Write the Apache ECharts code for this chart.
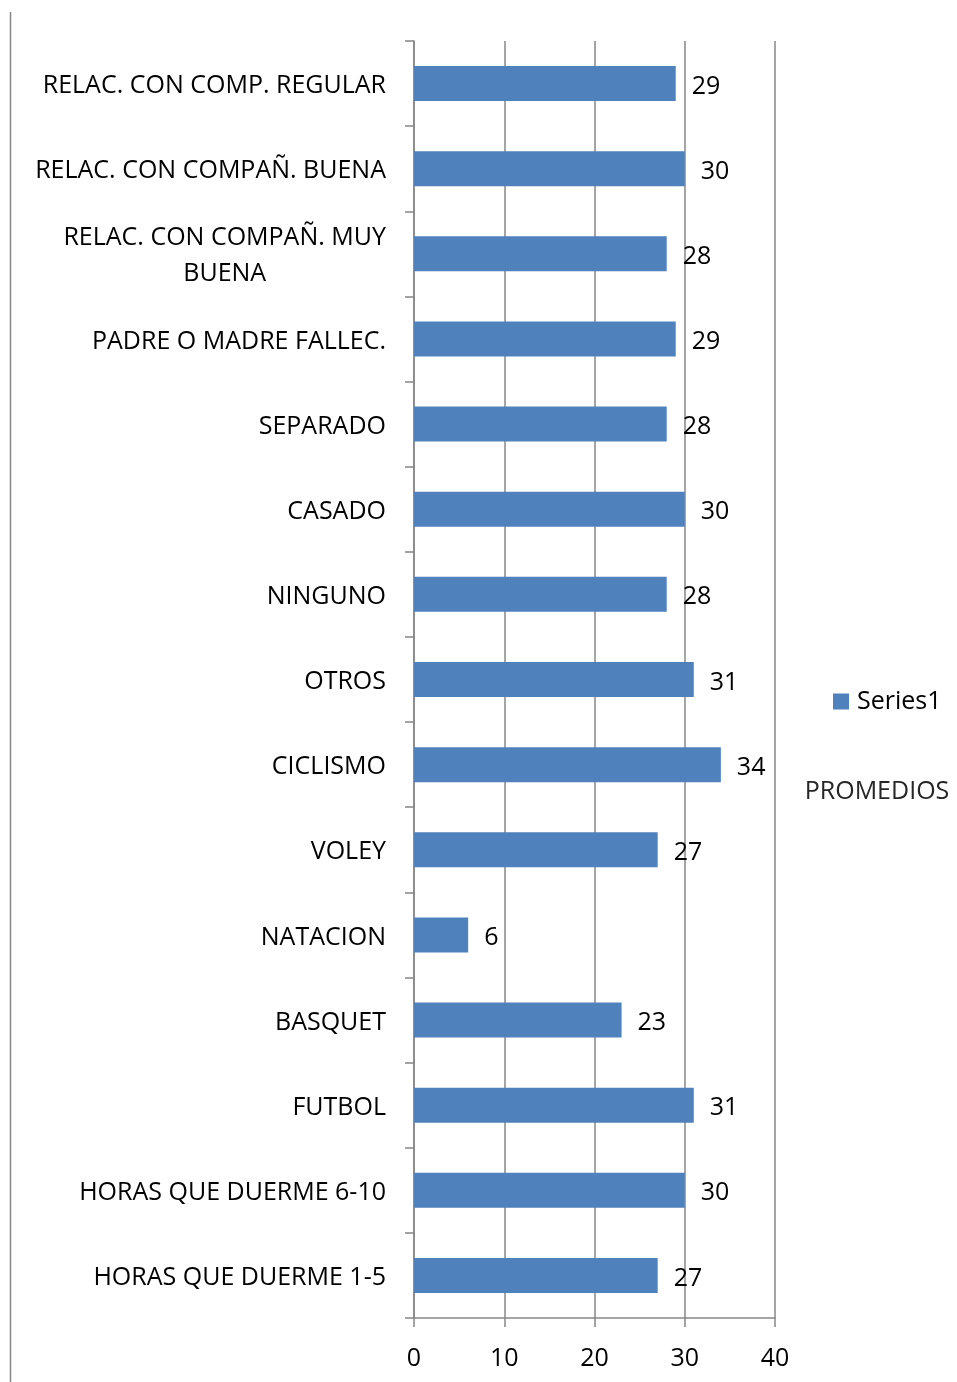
<!DOCTYPE html>
<html>
<head>
<meta charset="utf-8">
<title>PROMEDIOS</title>
<script src="https://cdn.jsdelivr.net/npm/echarts@6/dist/echarts.min.js"></script>
<style>
  html, body { margin: 0; padding: 0; background: #fff; }
  #chart { width: 957px; height: 1382px; }
</style>
</head>
<body>
<div id="chart"></div>
<script>
// bottom to top, as in the original sheet
const categories = [
  'HORAS QUE DUERME 1-5',
  'HORAS QUE DUERME 6-10',
  'FUTBOL',
  'BASQUET',
  'NATACION',
  'VOLEY',
  'CICLISMO',
  'OTROS',
  'NINGUNO',
  'CASADO',
  'SEPARADO',
  'PADRE O MADRE FALLEC.',
  'RELAC. CON COMPAÑ. MUY BUENA',
  'RELAC. CON COMPAÑ. BUENA',
  'RELAC. CON COMP. REGULAR',
];
const series1 = [27, 30, 31, 23, 6, 27, 34, 31, 28, 30, 28, 29, 28, 30, 29];
const xTicks = [0, 10, 20, 30, 40];

const FONT = '"Open Sans", "Noto Sans", sans-serif';
const SIZE = 25;
const GRAY = '#878787';

// wrap long category names onto two centred lines
function wrapLabel(name) {
  if (name.length <= 24) {
    return name;
  }
  const cut = name.lastIndexOf(' ', 24);
  return '{c|' + name.slice(0, cut) + '}\n{c|' + name.slice(cut + 1) + '}';
}

const chart = echarts.init(document.getElementById('chart'));

chart.setOption({
  animation: false,
  textStyle: { fontFamily: FONT },
  title: {
    text: 'PROMEDIOS',
    left: 877,
    top: 779,
    padding: 0,
    textAlign: 'center',
    textStyle: {
      fontFamily: FONT,
      fontSize: SIZE,
      fontWeight: 'normal',
      color: '#262626',
    },
  },
  legend: {
    left: 833,
    top: 689,
    padding: 0,
    icon: 'rect',
    itemWidth: 16,
    itemHeight: 16,
    itemGap: 8,
    textStyle: {
      fontFamily: FONT,
      fontSize: SIZE,
      color: '#000',
      padding: [0, 0, 0, 3],
    },
    data: ['Series1'],
  },
  graphic: [
    {
      type: 'line',
      shape: { x1: 10.5, y1: 12, x2: 10.5, y2: 1382 },
      style: { stroke: GRAY, lineWidth: 1.5 },
      silent: true,
    },
  ],
  grid: {
    left: 414,
    right: 182,
    top: 41,
    bottom: 64,
    containLabel: false,
  },
  xAxis: {
    type: 'value',
    min: xTicks[0],
    max: xTicks[xTicks.length - 1],
    interval: xTicks[1] - xTicks[0],
    axisLine: { show: true, lineStyle: { color: GRAY, width: 1.5 } },
    axisTick: { show: true, length: 9, lineStyle: { color: GRAY, width: 1.5 } },
    splitLine: { show: true, lineStyle: { color: GRAY, width: 1.5 } },
    axisLabel: {
      margin: 28,
      fontFamily: FONT,
      fontSize: SIZE,
      color: '#000',
    },
  },
  yAxis: {
    type: 'category',
    data: categories,
    axisLine: { show: true, lineStyle: { color: GRAY, width: 1.5 } },
    axisTick: { show: true, length: 9, lineStyle: { color: GRAY, width: 1.5 } },
    axisLabel: {
      margin: 28,
      fontFamily: FONT,
      fontSize: SIZE,
      color: '#000',
      lineHeight: 36,
      padding: [5, 0, 0, 0],
      formatter: wrapLabel,
      rich: {
        c: {
          align: 'center',
          fontFamily: FONT,
          fontSize: SIZE,
          color: '#000',
          lineHeight: 36,
        },
      },
    },
  },
  series: [
    {
      name: 'Series1',
      type: 'bar',
      data: series1,
      barWidth: 35,
      itemStyle: { color: '#4f81bd' },
      label: {
        show: true,
        position: 'right',
        distance: 16,
        offset: [0, 3],
        fontFamily: FONT,
        fontSize: SIZE,
        color: '#000',
      },
    },
  ],
});
</script>
</body>
</html>
